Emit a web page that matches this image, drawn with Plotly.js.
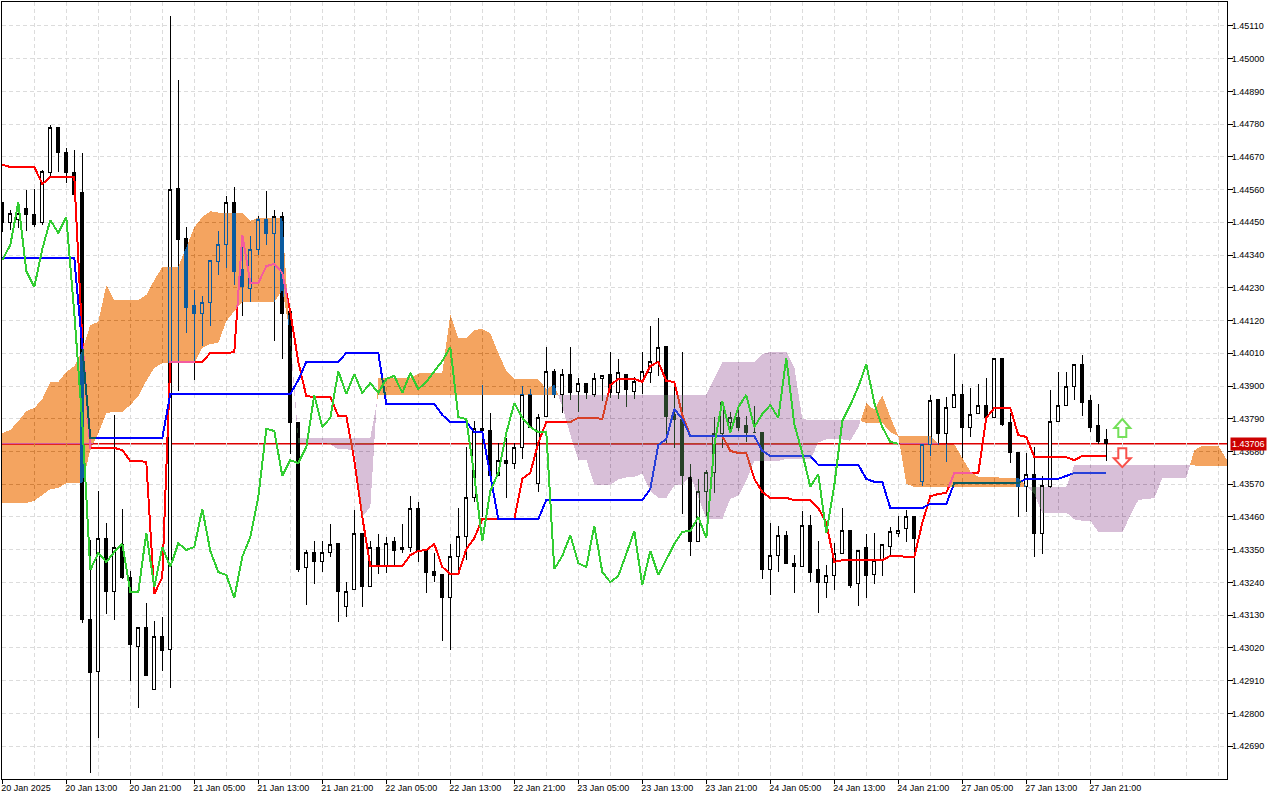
<!DOCTYPE html>
<html><head><meta charset="utf-8">
<script src="https://cdn.plot.ly/plotly-3.0.1.min.js"></script>
<style>
html,body{margin:0;padding:0;background:#fff}
#c{width:1280px;height:800px}
#c path.js-fill{mix-blend-mode:difference;shape-rendering:crispEdges}
#c path.js-line{shape-rendering:crispEdges}
#c g.boxes path{shape-rendering:crispEdges}
</style></head><body><div id="c"></div>
<script>
const openP=[1.44515,1.44448,1.44458,1.44495,1.44478,1.44448,1.44619,1.44767,1.44686,1.44616,1.44549,1.43117,1.42942,1.43389,1.43208,1.43366,1.43258,1.43026,1.43090,1.42882,1.43060,1.43016,1.44565,1.44397,1.44169,1.44145,1.44179,1.44320,1.44374,1.44518,1.44290,1.44229,1.44360,1.44458,1.44414,1.44468,1.44149,1.43776,1.43289,1.43342,1.43309,1.43342,1.43372,1.43158,1.43215,1.43406,1.43225,1.43359,1.43292,1.43376,1.43352,1.43359,1.43487,1.43346,1.43278,1.43268,1.43191,1.43326,1.43393,1.43527,1.43756,1.43752,1.43601,1.43651,1.43641,1.43695,1.43870,1.43574,1.43796,1.43950,1.43873,1.43940,1.43880,1.43910,1.43873,1.43924,1.43940,1.43877,1.43940,1.43883,1.43914,1.43947,1.43984,1.44034,1.43803,1.43789,1.43594,1.43379,1.43547,1.43608,1.43742,1.43779,1.43793,1.43766,1.43745,1.43745,1.43285,1.43329,1.43399,1.43305,1.43292,1.43433,1.43282,1.43241,1.43262,1.43336,1.43416,1.43235,1.43356,1.43268,1.43315,1.43362,1.43406,1.43420,1.43460,1.43578,1.43702,1.43856,1.43742,1.43829,1.43870,1.43762,1.43809,1.43836,1.43793,1.43991,1.43776,1.43675,1.43561,1.43604,1.43406,1.43564,1.43782,1.43833,1.43897,1.43974,1.43850,1.43766,1.43719];
const highP=[1.44515,1.44491,1.44498,1.44559,1.44562,1.44626,1.44777,1.44767,1.44700,1.44693,1.44683,1.43383,1.43547,1.43440,1.43803,1.43487,1.43278,1.43090,1.43171,1.43110,1.43124,1.45143,1.44928,1.44434,1.44223,1.44202,1.44323,1.44421,1.44538,1.44569,1.44407,1.44404,1.44471,1.44555,1.44491,1.44485,1.44149,1.43776,1.43349,1.43379,1.43379,1.43436,1.43372,1.43241,1.43483,1.43406,1.43379,1.43403,1.43393,1.43393,1.43436,1.43530,1.43510,1.43346,1.43339,1.43268,1.43369,1.43490,1.43695,1.43782,1.43903,1.43809,1.43709,1.43725,1.43709,1.43900,1.43890,1.43806,1.44031,1.43957,1.43957,1.44031,1.43927,1.43910,1.43944,1.43934,1.44014,1.43991,1.43940,1.43930,1.44014,1.44102,1.44129,1.44034,1.43897,1.44014,1.43638,1.43588,1.43618,1.43796,1.43850,1.43813,1.43833,1.43799,1.43833,1.43745,1.43440,1.43430,1.43413,1.43332,1.43480,1.43467,1.43379,1.43299,1.43372,1.43490,1.43416,1.43346,1.43403,1.43406,1.43369,1.43426,1.43463,1.43483,1.43460,1.43702,1.43870,1.43856,1.43863,1.44008,1.43907,1.43893,1.43907,1.43927,1.43994,1.43991,1.43809,1.43675,1.43675,1.43695,1.43598,1.43887,1.43947,1.43947,1.43974,1.44004,1.43870,1.43840,1.43756];
const lowP=[1.44417,1.44424,1.44431,1.44421,1.44434,1.44441,1.44602,1.44619,1.44582,1.44545,1.43104,1.42600,1.42717,1.43134,1.43114,1.43252,1.42909,1.42818,1.42926,1.42882,1.42942,1.42885,1.43883,1.44078,1.43920,1.44034,1.44102,1.44273,1.44297,1.44239,1.44135,1.44182,1.44340,1.44374,1.44051,1.43991,1.43672,1.43275,1.43164,1.43235,1.43275,1.43326,1.43107,1.43124,1.43215,1.43158,1.43225,1.43268,1.43272,1.43295,1.43339,1.43342,1.43309,1.43205,1.43241,1.43043,1.43013,1.43265,1.43315,1.43510,1.43460,1.43598,1.43601,1.43524,1.43621,1.43655,1.43762,1.43544,1.43796,1.43860,1.43809,1.43853,1.43813,1.43856,1.43863,1.43850,1.43860,1.43856,1.43829,1.43856,1.43873,1.43910,1.43934,1.43709,1.43692,1.43470,1.43329,1.43376,1.43463,1.43541,1.43692,1.43749,1.43749,1.43712,1.43742,1.43252,1.43198,1.43275,1.43305,1.43205,1.43292,1.43241,1.43137,1.43188,1.43215,1.43336,1.43221,1.43161,1.43188,1.43235,1.43262,1.43332,1.43393,1.43376,1.43205,1.43564,1.43665,1.43702,1.43645,1.43829,1.43658,1.43729,1.43809,1.43793,1.43793,1.43766,1.43641,1.43460,1.43477,1.43326,1.43336,1.43557,1.43782,1.43833,1.43853,1.43799,1.43745,1.43705,1.43648];
const closeP=[1.44448,1.44481,1.44481,1.44475,1.44444,1.44622,1.44770,1.44686,1.44616,1.44545,1.43117,1.42939,1.43389,1.43208,1.43359,1.43255,1.43030,1.43090,1.42926,1.43057,1.43013,1.44562,1.44394,1.44165,1.44145,1.44179,1.44323,1.44374,1.44518,1.44286,1.44233,1.44360,1.44458,1.44414,1.44468,1.44145,1.43776,1.43282,1.43339,1.43309,1.43342,1.43369,1.43208,1.43208,1.43406,1.43225,1.43359,1.43292,1.43372,1.43349,1.43359,1.43487,1.43346,1.43275,1.43265,1.43188,1.43326,1.43393,1.43527,1.43756,1.43749,1.43598,1.43651,1.43641,1.43695,1.43870,1.43762,1.43793,1.43950,1.43873,1.43940,1.43877,1.43910,1.43877,1.43924,1.43934,1.43877,1.43944,1.43890,1.43914,1.43950,1.43984,1.44031,1.43796,1.43789,1.43598,1.43379,1.43547,1.43608,1.43742,1.43843,1.43793,1.43762,1.43745,1.43745,1.43285,1.43329,1.43399,1.43305,1.43292,1.43430,1.43275,1.43241,1.43262,1.43336,1.43413,1.43231,1.43346,1.43265,1.43315,1.43369,1.43410,1.43413,1.43460,1.43389,1.43702,1.43850,1.43742,1.43829,1.43870,1.43762,1.43806,1.43836,1.43793,1.43994,1.43772,1.43675,1.43561,1.43604,1.43406,1.43567,1.43782,1.43836,1.43897,1.43974,1.43843,1.43762,1.43712,1.43706];
const tenkan=[1.44643,1.44636,1.44636,1.44636,1.44636,1.44579,1.44602,1.44602,1.44602,1.44602,1.44055,1.43692,1.43692,1.43692,1.43692,1.43685,1.43648,1.43648,1.43645,1.43201,1.43258,1.43981,1.43981,1.43981,1.43981,1.43981,1.44011,1.44011,1.44011,1.44014,1.44407,1.44246,1.44246,1.44303,1.44310,1.44280,1.44149,1.43981,1.43866,1.43863,1.43863,1.43863,1.43799,1.43799,1.43651,1.43460,1.43295,1.43295,1.43295,1.43295,1.43295,1.43332,1.43346,1.43349,1.43369,1.43292,1.43268,1.43268,1.43352,1.43389,1.43453,1.43453,1.43453,1.43453,1.43453,1.43588,1.43608,1.43709,1.43779,1.43779,1.43779,1.43779,1.43793,1.43793,1.43793,1.43789,1.43903,1.43924,1.43924,1.43924,1.43914,1.43967,1.43981,1.43917,1.43914,1.43803,1.43732,1.43732,1.43732,1.43732,1.43732,1.43682,1.43675,1.43675,1.43588,1.43544,1.43524,1.43524,1.43524,1.43517,1.43517,1.43517,1.43490,1.43440,1.43309,1.43315,1.43315,1.43315,1.43315,1.43315,1.43315,1.43329,1.43329,1.43326,1.43326,1.43440,1.43530,1.43537,1.43541,1.43608,1.43608,1.43608,1.43608,1.43793,1.43826,1.43826,1.43826,1.43735,1.43729,1.43661,1.43661,1.43661,1.43661,1.43661,1.43651,1.43665,1.43665,1.43665,1.43665];
const kijun=[1.44330,1.44330,1.44330,1.44330,1.44330,1.44330,1.44330,1.44330,1.44330,1.44330,1.44031,1.43725,1.43725,1.43725,1.43725,1.43725,1.43725,1.43725,1.43725,1.43725,1.43725,1.43873,1.43873,1.43873,1.43873,1.43873,1.43873,1.43873,1.43873,1.43873,1.43873,1.43873,1.43873,1.43873,1.43873,1.43873,1.43873,1.43920,1.43981,1.43981,1.43981,1.43981,1.43981,1.44011,1.44011,1.44011,1.44011,1.44011,1.43840,1.43840,1.43840,1.43840,1.43840,1.43840,1.43840,1.43803,1.43779,1.43779,1.43779,1.43745,1.43745,1.43601,1.43453,1.43453,1.43453,1.43453,1.43453,1.43453,1.43517,1.43517,1.43517,1.43517,1.43517,1.43517,1.43517,1.43517,1.43517,1.43517,1.43517,1.43517,1.43517,1.43554,1.43702,1.43722,1.43823,1.43789,1.43732,1.43732,1.43732,1.43732,1.43732,1.43732,1.43732,1.43732,1.43732,1.43682,1.43665,1.43665,1.43665,1.43665,1.43665,1.43665,1.43635,1.43635,1.43635,1.43635,1.43635,1.43635,1.43588,1.43578,1.43578,1.43490,1.43490,1.43490,1.43490,1.43490,1.43504,1.43504,1.43504,1.43574,1.43574,1.43574,1.43574,1.43574,1.43574,1.43574,1.43574,1.43574,1.43588,1.43588,1.43588,1.43588,1.43588,1.43598,1.43608,1.43608,1.43608,1.43608,1.43608];
const chikou=[1.44323,1.44374,1.44518,1.44286,1.44233,1.44360,1.44458,1.44414,1.44468,1.44145,1.43776,1.43282,1.43339,1.43309,1.43342,1.43369,1.43208,1.43208,1.43406,1.43225,1.43359,1.43292,1.43372,1.43349,1.43359,1.43487,1.43346,1.43275,1.43265,1.43188,1.43326,1.43393,1.43527,1.43756,1.43749,1.43598,1.43651,1.43641,1.43695,1.43870,1.43762,1.43793,1.43950,1.43873,1.43940,1.43877,1.43910,1.43877,1.43924,1.43934,1.43877,1.43944,1.43890,1.43914,1.43950,1.43984,1.44031,1.43796,1.43789,1.43598,1.43379,1.43547,1.43608,1.43742,1.43843,1.43793,1.43762,1.43745,1.43745,1.43285,1.43329,1.43399,1.43305,1.43292,1.43430,1.43275,1.43241,1.43262,1.43336,1.43413,1.43231,1.43346,1.43265,1.43315,1.43369,1.43410,1.43413,1.43460,1.43389,1.43702,1.43850,1.43742,1.43829,1.43870,1.43762,1.43806,1.43836,1.43793,1.43994,1.43772,1.43675,1.43561,1.43604,1.43406,1.43567,1.43782,1.43836,1.43897,1.43974,1.43843,1.43762,1.43712,1.43706];
const senkouA=[1.43742,1.43752,1.43782,1.43816,1.43826,1.43856,1.43914,1.43914,1.43947,1.43967,1.44021,1.44105,1.44115,1.44239,1.44189,1.44189,1.44189,1.44189,1.44206,1.44256,1.44300,1.44300,1.44300,1.44367,1.44434,1.44468,1.44487,1.44483,1.44483,1.44483,1.44483,1.44455,1.44466,1.44466,1.44466,1.44466,1.44043,1.43709,1.43709,1.43709,1.43709,1.43705,1.43687,1.43687,1.43685,1.43463,1.43492,1.43927,1.43927,1.43927,1.43927,1.43927,1.43942,1.43942,1.43942,1.43944,1.44140,1.44060,1.44060,1.44088,1.44092,1.44077,1.44011,1.43951,1.43924,1.43922,1.43922,1.43922,1.43890,1.43905,1.43831,1.43736,1.43653,1.43653,1.43568,1.43568,1.43568,1.43586,1.43593,1.43595,1.43605,1.43548,1.43524,1.43524,1.43566,1.43567,1.43599,1.43527,1.43453,1.43453,1.43453,1.43521,1.43531,1.43581,1.43648,1.43648,1.43648,1.43648,1.43655,1.43655,1.43655,1.43653,1.43710,1.43721,1.43721,1.43721,1.43716,1.43761,1.43842,1.43820,1.43869,1.43796,1.43732,1.43732,1.43732,1.43732,1.43732,1.43707,1.43704,1.43704,1.43660,1.43613,1.43595,1.43595,1.43595,1.43591,1.43591,1.43591,1.43563,1.43538,1.43472,1.43475,1.43475,1.43475,1.43452,1.43447,1.43447,1.43410,1.43410,1.43408,1.43408,1.43465,1.43517,1.43521,1.43523,1.43591,1.43591,1.43591,1.43591,1.43684,1.43700,1.43700,1.43700,1.43655,1.43660];
const senkouB=[1.43507,1.43507,1.43507,1.43507,1.43514,1.43534,1.43554,1.43557,1.43574,1.43574,1.43574,1.43685,1.43742,1.43809,1.43813,1.43813,1.43836,1.43866,1.43917,1.43961,1.43977,1.43977,1.43977,1.43977,1.43977,1.44028,1.44041,1.44045,1.44118,1.44152,1.44182,1.44182,1.44182,1.44182,1.44182,1.44223,1.44071,1.43725,1.43725,1.43725,1.43725,1.43725,1.43725,1.43725,1.43725,1.43725,1.43725,1.43871,1.43871,1.43871,1.43871,1.43871,1.43871,1.43871,1.43871,1.43871,1.43871,1.43871,1.43871,1.43871,1.43871,1.43871,1.43871,1.43871,1.43871,1.43871,1.43871,1.43871,1.43871,1.43871,1.43871,1.43871,1.43871,1.43871,1.43871,1.43871,1.43871,1.43871,1.43871,1.43871,1.43871,1.43871,1.43871,1.43871,1.43871,1.43871,1.43871,1.43871,1.43871,1.43927,1.43981,1.43981,1.43981,1.43981,1.43981,1.44008,1.44014,1.44014,1.44014,1.43964,1.43789,1.43786,1.43786,1.43786,1.43786,1.43786,1.43786,1.43786,1.43776,1.43776,1.43776,1.43745,1.43732,1.43571,1.43561,1.43561,1.43561,1.43561,1.43561,1.43561,1.43561,1.43561,1.43561,1.43561,1.43561,1.43561,1.43561,1.43561,1.43561,1.43561,1.43561,1.43561,1.43561,1.43561,1.43635,1.43635,1.43635,1.43635,1.43635,1.43635,1.43635,1.43635,1.43635,1.43635,1.43635,1.43635,1.43635,1.43635,1.43635,1.43631,1.43631,1.43631,1.43631,1.43631,1.43631];
const bidPrice=1.43706;
const upArrowPrice=1.43759, downArrowPrice=1.43661, arrowBar=140;
const yTicks=[1.45110,1.45000,1.44890,1.44780,1.44670,1.44560,1.44450,1.44340,1.44230,1.44120,1.44010,1.43900,1.43790,1.43680,1.43570,1.43460,1.43350,1.43240,1.43130,1.43020,1.42910,1.42800,1.42690];
const yTickText=["1.45110","1.45000","1.44890","1.44780","1.44670","1.44560","1.44450","1.44340","1.44230","1.44120","1.44010","1.43900","1.43790","1.43680","1.43570","1.43460","1.43350","1.43240","1.43130","1.43020","1.42910","1.42800","1.42690"];
const xTicks=[0,8,16,24,32,40,48,56,64,72,80,88,96,104,112,120,128,136];
const xTickText=["20 Jan 2025","20 Jan 13:00","20 Jan 21:00","21 Jan 05:00","21 Jan 13:00","21 Jan 21:00","22 Jan 05:00","22 Jan 13:00","22 Jan 21:00","23 Jan 05:00","23 Jan 13:00","23 Jan 21:00","24 Jan 05:00","24 Jan 13:00","24 Jan 21:00","27 Jan 05:00","27 Jan 13:00","27 Jan 21:00"];

const idx=a=>a.map((_,i)=>i);
const GRID='#DCDCDC';
const MARGIN={l:2,r:53,t:2,b:21};
// The cloud is composited with difference blending so that everything under it inverts, as on the terminal.
const ORANGE_X='#0B5B9F', THISTLE_X='#274027';
function cloudTraces(){
  const out=[]; let seg=null;
  const flush=()=>{ if(seg&&seg.xs.length>1){ out.push({type:'scatter',mode:'lines',x:seg.xs.concat(seg.xs.slice().reverse()),
     y:seg.hi.concat(seg.lo.slice().reverse()),fill:'toself',fillcolor:seg.up?ORANGE_X:THISTLE_X,line:{width:0},hoverinfo:'skip',showlegend:false}); } seg=null; };
  for(let i=0;i<senkouA.length;i++){
    const a=senkouA[i],b=senkouB[i],up=a>=b;
    if(seg&&seg.up!==up){
      const a0=senkouA[i-1],b0=senkouB[i-1],d0=a0-b0,d1=a-b,t=d0/(d0-d1),xc=i-1+t,yc=a0+(a-a0)*t;
      seg.xs.push(xc);seg.hi.push(yc);seg.lo.push(yc);flush();
      seg={up,xs:[xc],hi:[yc],lo:[yc]};
    }
    if(!seg)seg={up,xs:[],hi:[],lo:[]};
    seg.xs.push(i);seg.hi.push(a);seg.lo.push(b);
  }
  flush(); return out;
}
const traces=[
 {type:'candlestick',x:idx(openP),open:openP,high:highP,low:lowP,close:closeP,whiskerwidth:0,
  increasing:{line:{color:'#000',width:1},fillcolor:'#fff'},decreasing:{line:{color:'#000',width:1},fillcolor:'#000'},showlegend:false,hoverinfo:'skip'},
 {type:'scatter',mode:'lines',x:idx(tenkan),y:tenkan,line:{color:'#FF0000',width:2},showlegend:false,hoverinfo:'skip'},
 {type:'scatter',mode:'lines',x:idx(kijun),y:kijun,line:{color:'#0000FF',width:2},showlegend:false,hoverinfo:'skip'},
 ...cloudTraces(),
 {type:'scatter',mode:'lines',x:idx(chikou),y:chikou,line:{color:'#32CD32',width:2},showlegend:false,hoverinfo:'skip'}
];
const tickFont={family:'Liberation Sans, Arial, sans-serif',size:9,color:'#000'};
const upPath='M 0 9 L 8 0 L 4 0 L 4 -9 L -4 -9 L -4 0 L -8 0 Z';
const downPath='M 0 -10 L 8.5 -1 L 4 -1 L 4 9 L -4 9 L -4 -1 L -8.5 -1 Z';
const layout={
 width:1280,height:800,margin:MARGIN,paper_bgcolor:'#fff',plot_bgcolor:'#fff',showlegend:false,
 boxgap:0.5,hovermode:false,dragmode:false,
 xaxis:{type:'linear',range:[-0.0375,153.0875],rangeslider:{visible:false},tickmode:'array',tickvals:xTicks,ticktext:xTickText,
  ticks:'outside',ticklen:4,tickcolor:'#000',tickwidth:1,showline:true,linecolor:'#000',linewidth:1,mirror:true,zeroline:false,
  showgrid:true,gridcolor:GRID,griddash:'4px,3px',gridwidth:1,ticklabelposition:'outside right',ticklabelshift:-2,tickfont:tickFont,
  minor:{tickmode:'linear',tick0:0,dtick:4,showgrid:true,gridcolor:GRID,griddash:'4px,3px',gridwidth:1,ticklen:0}},
 yaxis:{side:'right',range:[1.425796,1.451903],tickmode:'array',tickvals:yTicks,ticktext:yTickText,
  ticks:'outside',ticklen:5,tickcolor:'#000',tickwidth:1,showline:true,linecolor:'#000',linewidth:1,mirror:true,zeroline:false,
  showgrid:true,gridcolor:GRID,griddash:'4px,3px',gridwidth:1,tickfont:tickFont},
 shapes:[
  {type:'line',layer:'below',xref:'paper',x0:0,x1:1,yref:'y',y0:bidPrice,y1:bidPrice,line:{color:'#DD0000',width:1.3}},
  {type:'path',layer:'above',xref:'x',yref:'y',xsizemode:'pixel',ysizemode:'pixel',xanchor:arrowBar,yanchor:upArrowPrice,path:upPath,fillcolor:'#fff',line:{color:'#74E05A',width:2}},
  {type:'path',layer:'above',xref:'x',yref:'y',xsizemode:'pixel',ysizemode:'pixel',xanchor:arrowBar,yanchor:downArrowPrice,path:downPath,fillcolor:'#fff',line:{color:'#F8504A',width:2}}
 ],
 annotations:[{xref:'paper',x:1,xanchor:'left',xshift:3,yref:'y',y:bidPrice,yanchor:'middle',text:'1.43706',showarrow:false,
   font:{family:'Liberation Sans, Arial, sans-serif',size:9,color:'#fff'},bgcolor:'#CC0000',borderpad:1}]
};
Plotly.newPlot('c',traces,layout,{staticPlot:true,displayModeBar:false}).then(gd=>{
  // The plot group is an isolated stacking context: give the cloud's blend a backdrop inside it (white + grid + price line).
  const NS='http://www.w3.org/2000/svg';
  const plot=gd.querySelector('.overplot > .xy');
  const wrap=document.createElementNS(NS,'g');
  wrap.setAttribute('transform','translate('+(-MARGIN.l)+','+(-MARGIN.t)+')');
  const bg=document.createElementNS(NS,'rect');
  bg.setAttribute('x',0);bg.setAttribute('y',0);bg.setAttribute('width',1280);bg.setAttribute('height',800);bg.setAttribute('fill','#fff');
  wrap.appendChild(bg);
  gd.querySelectorAll('.minor-gridlayer,.gridlayer,.layer-below').forEach(g=>wrap.appendChild(g.cloneNode(true)));
  plot.insertBefore(wrap,plot.firstChild);
  gd.querySelectorAll('.ytick text').forEach(t=>t.setAttribute('x',(+t.getAttribute('x'))-3));
});
</script></body></html>
